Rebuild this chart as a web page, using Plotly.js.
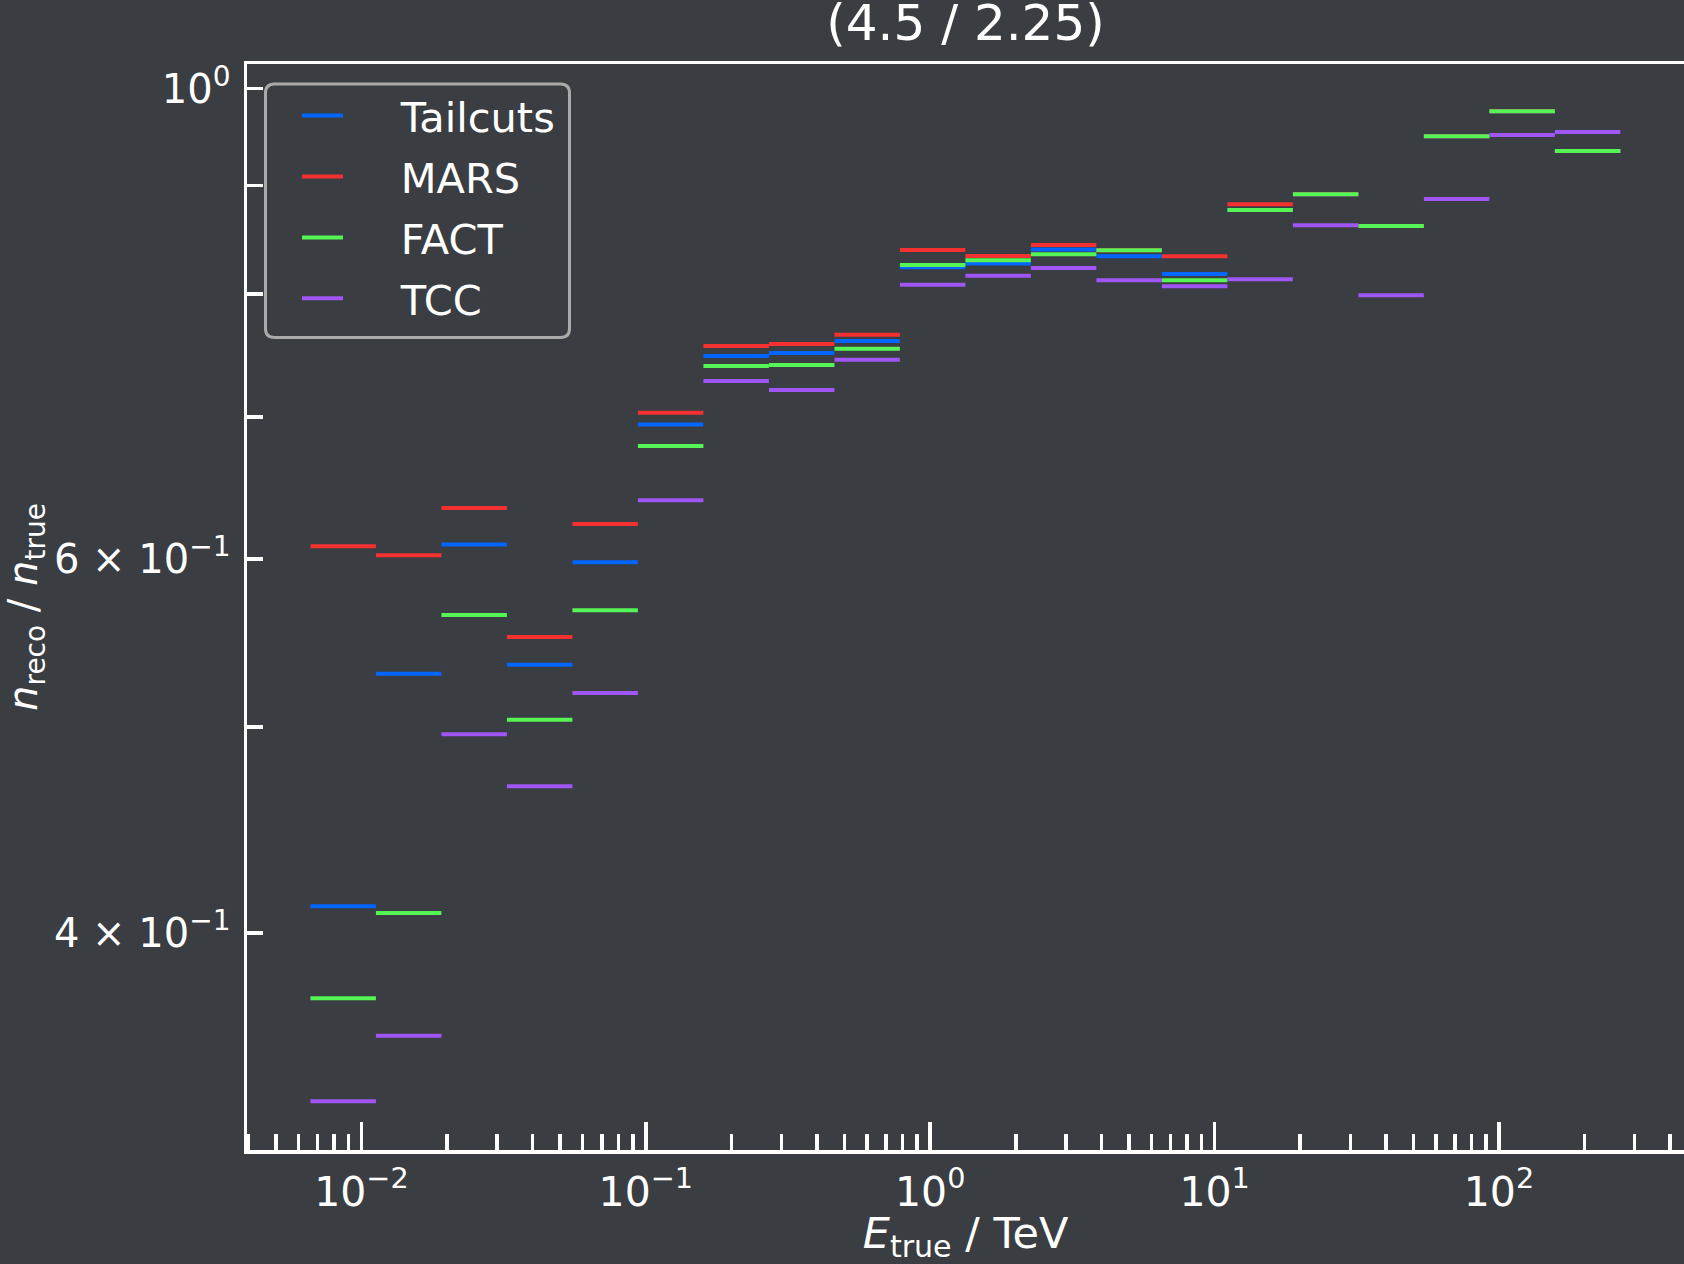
<!DOCTYPE html>
<html>
<head>
<meta charset="utf-8">
<script src="https://cdn.plot.ly/plotly-3.0.1.min.js"></script>
<style>
  html, body { margin: 0; padding: 0; background: #3a3d42; }
  #chart { width: 1684px; height: 1264px; }
</style>
</head>
<body>
<div id="chart"></div>
<script>
// ---- data ----
// energy bin edges, E_true in TeV (20 log-spaced bins)
const binEdges = [0.006617, 0.011246, 0.01911, 0.03248, 0.05519, 0.0938, 0.1594, 0.2709,
                  0.4605, 0.7824, 1.3296, 2.2594, 3.8396, 6.5254, 11.092, 18.849,
                  32.03, 54.43, 92.52, 157.2, 267.2];

const seriesNames = ["Tailcuts", "MARS", "FACT", "TCC"];

const tailcuts = [0.4117, 0.5298, 0.6096, 0.5350, 0.5980, 0.6945, 0.7480, 0.7505, 0.7604, 0.8236,
                  0.8270, 0.8398, 0.8335, 0.8176, 0.8764, 0.8916, 0.8613, 0.9496, 0.9757, 0.9345];
const mars     = [0.6085, 0.6026, 0.6343, 0.5514, 0.6234, 0.7034, 0.7562, 0.7578, 0.7654, 0.8392,
                  0.8338, 0.8438, 0.8389, 0.8335, 0.8820, 0.8916, 0.8613, 0.9496, 0.9757, 0.9345];
const fact     = [0.3726, 0.4087, 0.5647, 0.5041, 0.5677, 0.6785, 0.7399, 0.7408, 0.7539, 0.8256,
                  0.8299, 0.8353, 0.8389, 0.8122, 0.8764, 0.8916, 0.8613, 0.9496, 0.9757, 0.9345];
const tcc      = [0.3332, 0.3577, 0.4962, 0.4690, 0.5189, 0.6396, 0.7280, 0.7210, 0.7449, 0.8081,
                  0.8161, 0.8231, 0.8122, 0.8069, 0.8131, 0.8621, 0.7991, 0.8871, 0.9509, 0.9540];

const xMajorTicks = [0.01, 0.1, 1, 10, 100];
const xMajorLabels = ["10<sup>−2</sup>", "10<sup>−1</sup>", "10<sup>0</sup>", "10<sup>1</sup>", "10<sup>2</sup>"];
const xMinorTicks = [0.004, 0.005, 0.006, 0.007, 0.008, 0.009,
                     0.02, 0.03, 0.04, 0.05, 0.06, 0.07, 0.08, 0.09,
                     0.2, 0.3, 0.4, 0.5, 0.6, 0.7, 0.8, 0.9,
                     2, 3, 4, 5, 6, 7, 8, 9,
                     20, 30, 40, 50, 60, 70, 80, 90,
                     200, 300, 400];
const yMajorTicks = [0.4, 0.6, 1.0];
const yMajorLabels = ["4 × 10<sup>−1</sup>", "6 × 10<sup>−1</sup>", "10<sup>0</sup>"];
const yMinorTicks = [0.5, 0.7, 0.8, 0.9];

// ---- styling ----
const BG = "#3a3d42";
const FG = "#ffffff";
const colors = ["#0066ff", "#f53030", "#55f555", "#a055f5"];
const FONT = "DejaVu Sans, Liberation Sans, sans-serif";
const LEGEND_PAD = "\u00a0\u00a0\u00a0\u00a0"; // gap between legend line and label

// build step segments (one horizontal line per bin)
function steps(vals) {
  const x = [], y = [];
  for (let i = 0; i < vals.length; i++) {
    x.push(binEdges[i], binEdges[i + 1], null);
    y.push(vals[i], vals[i], null);
  }
  return {x, y};
}

const allSeries = [tailcuts, mars, fact, tcc];
const traces = allSeries.map((vals, k) => {
  const s = steps(vals);
  return {
    type: "scatter", mode: "lines",
    x: s.x, y: s.y,
    name: LEGEND_PAD + seriesNames[k],
    legendgroup: "g" + k,
    line: {color: colors[k], width: 4},
    connectgaps: false,
    hoverinfo: "skip"
  };
});

// plot-area geometry (pixels)
const W = 1684, H = 1264;
const mL = 247, mR = 0, mT = 64, mB = 114;
const pw = W - mL - mR, ph = H - mT - mB;
const px2paperX = p => (p - mL) / pw;
const px2paperY = p => (H - mB - p) / ph;

// rounded legend frame
function roundedRect(x0, y0, x1, y1, r) {
  const X = px2paperX, Y = px2paperY;
  const rx = r / pw, ry = r / ph;
  const a = X(x0), b = X(x1), t = Y(y0), u = Y(y1);
  return `M${a + rx},${t} L${b - rx},${t} Q${b},${t} ${b},${t - ry} ` +
         `L${b},${u + ry} Q${b},${u} ${b - rx},${u} ` +
         `L${a + rx},${u} Q${a},${u} ${a},${u + ry} ` +
         `L${a},${t - ry} Q${a},${t} ${a + rx},${t} Z`;
}

const layout = {
  width: W, height: H,
  paper_bgcolor: BG, plot_bgcolor: BG,
  margin: {l: mL, r: mR, t: mT, b: mB, pad: 0, autoexpand: false},
  font: {family: FONT, color: FG, size: 40},
  title: {
    text: "(4.5 / 2.25)",
    font: {family: FONT, size: 50, color: FG},
    x: 0.5, xref: "paper", xanchor: "center",
    y: 1 - 40 / H, yref: "container", yanchor: "bottom"
  },
  showlegend: true,
  legend: {
    x: px2paperX(297), xref: "paper", xanchor: "left",
    y: px2paperY(82), yref: "paper", yanchor: "top",
    bgcolor: "rgba(0,0,0,0)", borderwidth: 0,
    font: {family: FONT, size: 41.5, color: FG},
    tracegroupgap: 4, itemwidth: 41,
    traceorder: "grouped"
  },
  xaxis: {
    type: "log",
    range: [-2.4023, 2.6505],
    showgrid: false, zeroline: false,
    showline: true, linecolor: FG, linewidth: 3.5, mirror: true,
    ticks: "inside", ticklen: 28, tickwidth: 3.5, tickcolor: FG,
    tickmode: "array", tickvals: xMajorTicks, ticktext: xMajorLabels,
    tickfont: {family: FONT, size: 41, color: FG},
    ticklabelstandoff: 3,
    minor: {tickmode: "array", tickvals: xMinorTicks, ticks: "inside", ticklen: 16, tickwidth: 3.5, tickcolor: FG, showgrid: false},
    title: {text: "<i>E</i><sub>true</sub> / TeV", font: {family: FONT, size: 43, color: FG}, standoff: 20},
    automargin: true
  },
  yaxis: {
    type: "log",
    range: [-0.50031, 0.01155],
    showgrid: false, zeroline: false,
    showline: true, linecolor: FG, linewidth: 3.5, mirror: true,
    ticks: "inside", ticklen: 16, tickwidth: 3.5, tickcolor: FG,
    tickmode: "array", tickvals: yMajorTicks, ticktext: yMajorLabels,
    tickfont: {family: FONT, size: 40, color: FG},
    ticklabelstandoff: 5,
    minor: {tickmode: "array", tickvals: yMinorTicks, ticks: "inside", ticklen: 16, tickwidth: 3.5, tickcolor: FG, showgrid: false},
    title: {text: "<i>n</i><sub>reco</sub> / <i>n</i><sub>true</sub>", font: {family: FONT, size: 40, color: FG}},
    automargin: false
  },
  shapes: [{
    type: "path", xref: "paper", yref: "paper",
    path: roundedRect(265.5, 84, 569.5, 337.5, 9),
    line: {color: "#aaaaaa", width: 3},
    fillcolor: "rgba(0,0,0,0)", layer: "above"
  }]
};

Plotly.newPlot("chart", traces, layout, {displayModeBar: false, staticPlot: true});
</script>
</body>
</html>
